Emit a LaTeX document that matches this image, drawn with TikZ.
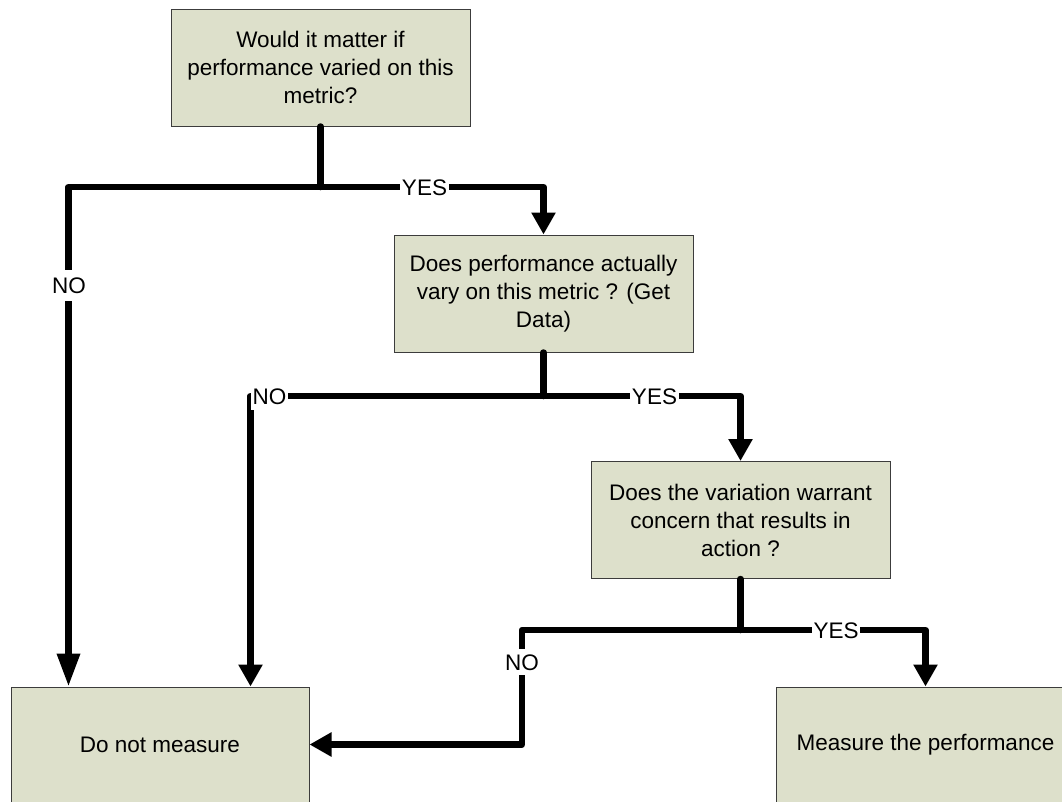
\documentclass[tikz,border=0pt]{standalone}
\usepackage{fontspec}
\setmainfont{Liberation Sans}
\usetikzlibrary{arrows.meta}
\definecolor{boxfill}{RGB}{221,224,203}
\definecolor{boxline}{RGB}{60,60,60}
\begin{document}
\begin{tikzpicture}[x=1pt,y=-1pt,
  box/.style={draw=boxline, fill=boxfill, line width=1pt, minimum width=299pt,
    minimum height=117pt, inner sep=0pt, align=center,
    font=\fontsize{22.5}{28}\selectfont, text=black},
  conn/.style={line width=6.5pt, line cap=round, line join=round},
  arr/.style={conn, -{Triangle[length=22pt,width=23pt]}},
  arrlong/.style={conn, -{Triangle[length=33pt,width=22pt]}},
  lab/.style={fill=white, inner xsep=1.5pt, inner ysep=2pt, text height=16pt,
    text depth=0pt, font=\fontsize{22.5}{27}\selectfont, text=black}
]
\useasboundingbox (0,0) rectangle (1062,801);
\clip (0,0) rectangle (1062,801);
\fill[white] (0,0) rectangle (1062,801);

% boxes
\node[box] (b1) at (320.5,67.5) {Would it matter if\\performance varied on this\\metric?};
\node[box] (b2) at (543.5,293.5) {Does performance actually\\vary on this metric ? (Get\\Data)};
\node[box] (b3) at (740.5,520) {Does the variation warrant\\concern that results in\\action ?};
\node[box, minimum width=298pt, minimum height=115pt] (b4) at (160,744.5) {Do not measure};
\node[box, minimum height=115pt] (b5) at (925.5,744.5) {Measure the performance};

% junctions
\coordinate (j1) at (320.5,187);
\coordinate (j2) at (543.5,396);
\coordinate (j3) at (740.5,630);
\coordinate (c3) at (522,630);

% connectors
\draw[conn] (b1.south) -- (j1);
\draw[arr] (j1) -| (b2.north);
\draw[arrlong] (j1) -| ([xshift=58pt]b4.north west);

\draw[conn] (b2.south) -- (j2);
\draw[arr] (j2) -| (b3.north);
\draw[arr] (j2) -| ([xshift=240pt]b4.north west);

\draw[conn] (b3.south) -- (j3);
\draw[arr] (j3) -| (b5.north);
\draw[arr] (j3) -- (c3) |- (b4.east);

% labels
\node[lab] (yes1) at (424.5,187) {YES};
\node[lab, minimum height=31pt] (no1) at (69,285) {NO};
\node[lab, anchor=west, minimum height=28pt] (no2) at (251,396) {NO};
\node[lab] (yes2) at (654.5,396) {YES};
\node[lab] (yes3) at (836,630) {YES};
\node[lab, minimum height=26pt] (no3) at (522,662) {NO};
\end{tikzpicture}
\end{document}
